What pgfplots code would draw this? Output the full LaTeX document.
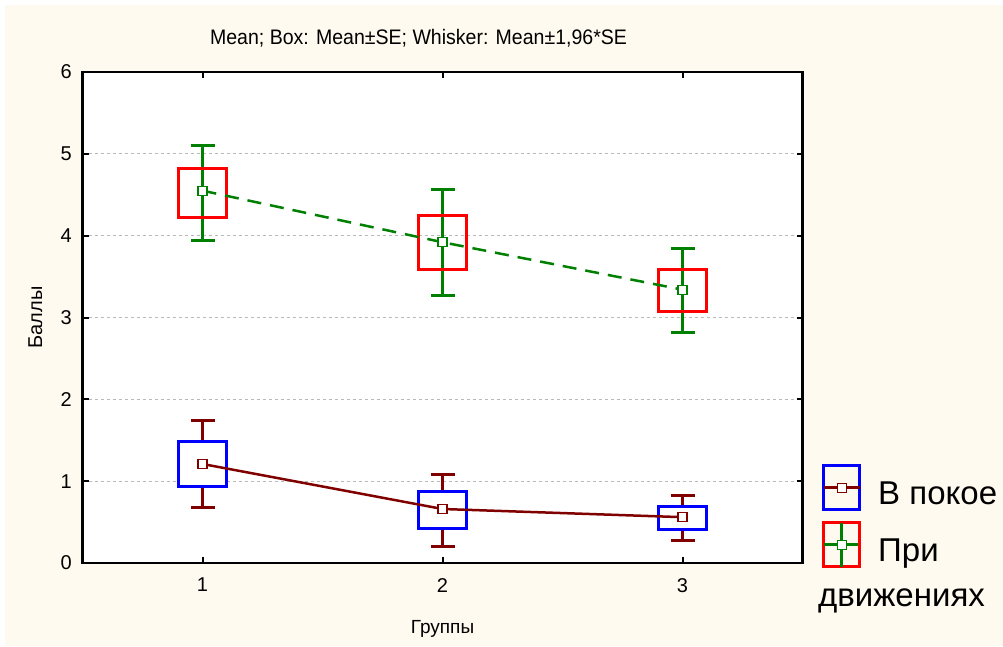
\documentclass[border=0pt]{standalone}
\usepackage{fontspec}
\setmainfont{Liberation Sans}
\newfontfamily\narrowfont[FakeStretch=0.93]{Liberation Sans}
\usepackage{pgfplots}
\usepgfplotslibrary{statistics}
\pgfplotsset{compat=1.18}

\definecolor{bgcream}{RGB}{255,250,240}
\definecolor{dred}{RGB}{128,0,0}
\definecolor{dgreen}{RGB}{0,128,0}

% mean and standard error per group
% rest:     1.21 (0.272), 0.645 (0.224), 0.55 (0.14)
% movement: 4.52 (0.295), 3.92 (0.33),  3.33 (0.26)

\pgfplotsset{
  segbox/.style={
    forget plot, line width=3pt, solid,
    boxplot/draw direction=y,
    boxplot/box extend=0.2,
    boxplot/whisker extend=0,
    boxplot/draw/median/.code={},
    boxplot/draw/lower whisker/.style={},
    boxplot/draw/upper whisker/.style={},
  },
}

\begin{document}
\begin{tikzpicture}
\fill[white] (0pt,0pt) rectangle (1003pt,646pt);
\fill[bgcream] (5pt,0pt) rectangle (1003pt,641pt);
\begin{axis}[
  at={(82.5pt,83pt)}, anchor=south west,
  scale only axis, width=720pt, height=491pt,
  xmin=0.5, xmax=3.5, ymin=0, ymax=6,
  xtick={1,2,3}, ytick={0,1,2,3,4,5,6},
  /pgf/number format/assume math mode=true,
  tick align=inside, major tick length=6pt,
  axis line style={line width=2.5pt},
  tick style={black, line width=2pt},
  ymajorgrids,
  grid style={gray!55, line width=1pt, dash pattern=on 3pt off 3pt},
  axis background/.style={fill=white},
  ticklabel style={font=\fontsize{20}{24}\selectfont, inner sep=0pt},
  yticklabel style={xshift=-10.5pt},
  xticklabel style={yshift=-15pt},
  title={\narrowfont Mean; Box: Mean±SE; Whisker: Mean±1,96*SE},
  title style={font=\fontsize{21}{24}\selectfont, at={(axis description cs:0.4667,1)}, anchor=base, yshift=21pt},
  xlabel={Группы},
  xlabel style={font=\fontsize{19}{22}\selectfont, at={(axis description cs:0.5,0)}, anchor=base, yshift=-70pt},
  ylabel={Баллы},
  ylabel style={font=\fontsize{20}{24}\selectfont, at={(axis description cs:-0.05625,0.5)}, anchor=base},
  legend style={at={(axis description cs:1.0271,0.2016)}, anchor=north west,
    draw=none, fill=none, inner sep=0pt, row sep=10pt, column sep=17pt,
    font=\fontsize{33}{38}\selectfont,
    nodes={inner sep=0pt, yshift=-6.5pt}},
  legend cell align=left,
]

% ---- at rest ----
\addplot[dred, only marks, mark=none, forget plot,
  error bars/.cd, y dir=both, y explicit,
  error bar style={dred, line width=3pt, solid},
  error mark options={dred, line width=3pt, mark size=12pt, rotate=90}]
  coordinates {(1,1.21) +- (0,0.533) (2,0.645) +- (0,0.439) (3,0.55) +- (0,0.274)};

\addplot[segbox, draw=blue, fill=white, boxplot prepared={draw position=1,
  lower whisker=0.938, lower quartile=0.938, median=1.21, upper quartile=1.482, upper whisker=1.482}]
  coordinates {};
\addplot[segbox, draw=blue, fill=white, boxplot prepared={draw position=2,
  lower whisker=0.421, lower quartile=0.421, median=0.645, upper quartile=0.869, upper whisker=0.869}]
  coordinates {};
\addplot[segbox, draw=blue, fill=white, boxplot prepared={draw position=3,
  lower whisker=0.41, lower quartile=0.41, median=0.55, upper quartile=0.69, upper whisker=0.69}]
  coordinates {};

\addplot[dred, line width=2.5pt, mark=square*,
  mark options={fill=white, draw=dred, line width=1.2pt, solid}, mark size=4.5pt,
  legend image code/.code={
    \draw[blue, solid, line width=3pt] (0pt,-22pt) rectangle (36pt,22pt);
    \draw[dred, solid, line width=2.5pt, mark repeat=2, mark phase=2,
      mark=square*, mark size=4.5pt, mark options={fill=white, draw=dred, line width=1.2pt}]
      plot coordinates {(0pt,0pt) (18pt,0pt) (36pt,0pt)};
  }]
  coordinates {(1,1.21) (2,0.66) (3,0.56)};
\addlegendentry{В покое}

% ---- during movement ----
\addplot[dgreen, only marks, mark=none, forget plot,
  error bars/.cd, y dir=both, y explicit,
  error bar style={dgreen, line width=3pt, solid},
  error mark options={dgreen, line width=3pt, mark size=12pt, rotate=90}]
  coordinates {(1,4.52) +- (0,0.578) (2,3.92) +- (0,0.647) (3,3.33) +- (0,0.51)};

\addplot[segbox, draw=red, boxplot prepared={draw position=1,
  lower whisker=4.225, lower quartile=4.225, median=4.52, upper quartile=4.815, upper whisker=4.815}]
  coordinates {};
\addplot[segbox, draw=red, boxplot prepared={draw position=2,
  lower whisker=3.59, lower quartile=3.59, median=3.92, upper quartile=4.25, upper whisker=4.25}]
  coordinates {};
\addplot[segbox, draw=red, boxplot prepared={draw position=3,
  lower whisker=3.07, lower quartile=3.07, median=3.33, upper quartile=3.59, upper whisker=3.59}]
  coordinates {};

\addplot[dgreen, line width=2.5pt, dash pattern=on 14pt off 9pt, mark=square*,
  mark options={fill=white, draw=dgreen, line width=1.2pt, solid}, mark size=4.5pt,
  legend image code/.code={
    \draw[red, solid, line width=3pt] (0pt,-22pt) rectangle (36pt,22pt);
    \draw[dgreen, solid, line width=2.5pt] (18pt,-22pt) -- (18pt,22pt);
    \draw[dgreen, solid, line width=2.5pt, mark repeat=2, mark phase=2,
      mark=square*, mark size=4.5pt, mark options={fill=white, draw=dgreen, line width=1.2pt}]
      plot coordinates {(0pt,0pt) (18pt,0pt) (34pt,0pt)};
  }]
  coordinates {(1,4.55) (2,3.92) (3,3.34)};
\addlegendentry{При}

\end{axis}
\node[anchor=base west, inner sep=0pt, font=\fontsize{33}{38}\selectfont] at (818pt,40pt) {движениях};
\end{tikzpicture}
\end{document}
